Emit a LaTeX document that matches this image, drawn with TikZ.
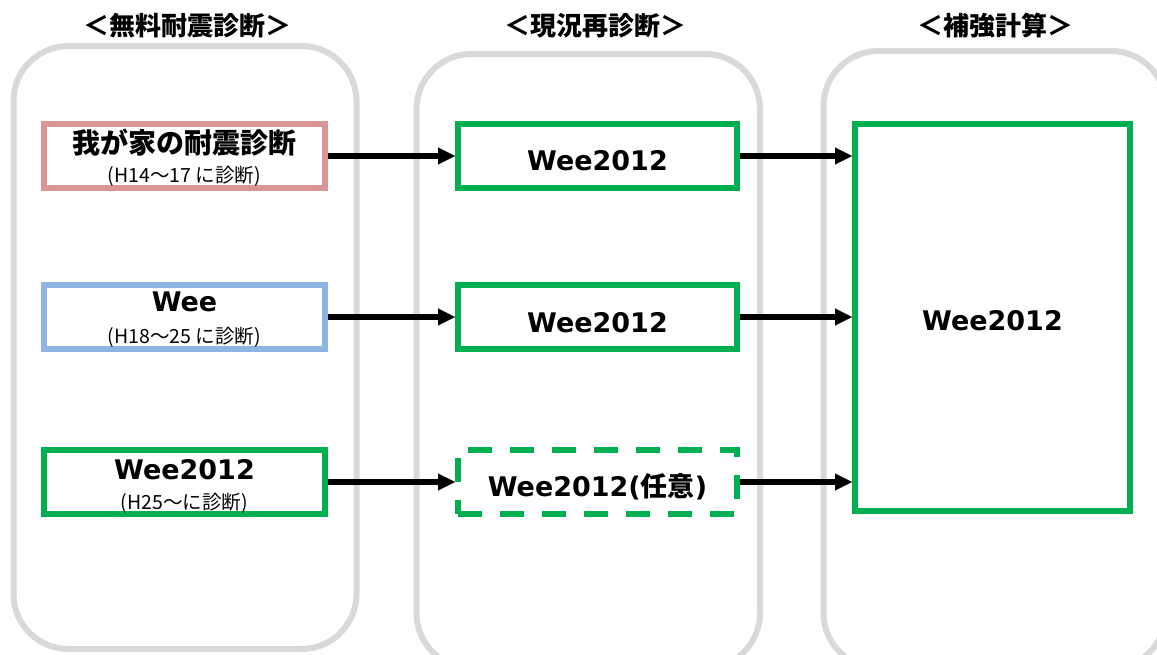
\documentclass[tikz,border=0pt]{standalone}
\usepackage{fontspec}
\setmainfont{DejaVu Sans}
\newfontfamily\jp{Noto Sans CJK JP}
\usetikzlibrary{arrows.meta}
\definecolor{panelgray}{HTML}{D9D9D9}
\definecolor{boxpink}{HTML}{D99694}
\definecolor{boxblue}{HTML}{8EB4E3}
\definecolor{boxgreen}{HTML}{00B050}
\begin{document}
\begin{tikzpicture}[x=1pt,y=-1pt,
  panel/.style={draw=panelgray,line width=6pt,rounded corners=55pt},
  srcbox/.style={draw,line width=6pt,minimum width=281pt,minimum height=64pt,inner sep=0pt,fill=white},
  midbox/.style={draw=boxgreen,line width=6pt,minimum width=279pt,minimum height=64pt,inner sep=0pt,fill=white},
  flow/.style={line width=5.5pt,-{Triangle[length=17pt,width=17pt,line width=0.1pt]}},
  ttl/.style={font=\jp\bfseries\fontsize{26}{30}\selectfont,inner sep=0pt},
  mainlbl/.style={font=\bfseries\fontsize{27}{30}\selectfont,inner sep=0pt},
  jpmain/.style={font=\jp\bfseries\fontsize{28}{30}\selectfont,inner sep=0pt},
  sublbl/.style={font=\jp\fontsize{19.5}{22}\selectfont,inner sep=0pt}
]
\useasboundingbox (0,0) rectangle (1157,654);
\clip (0,0) rectangle (1157,654);
% panels
\draw[panel] (13.5,46) rectangle (356.5,649);
\draw[panel] (416.5,54) rectangle (760,668);
\draw[panel] (823.5,51) rectangle (1166,668);
% titles
\node[ttl] (t1) at (187,26) {＜無料耐震診断＞};
\node[ttl] (t2) at (595,26) {＜現況再診断＞};
\node[ttl] (t3) at (995,26) {＜補強計算＞};
% source boxes
\node[srcbox,draw=boxpink] (A) at (184.5,156) {};
\node[srcbox,draw=boxblue] (B) at (184.5,317) {};
\node[srcbox,draw=boxgreen] (C) at (184.5,482) {};
\node[jpmain] (Am) at (184.5,143) {我が家の耐震診断};
\node[sublbl] (As) at (184.5,176) {(H14～17 に診断)};
\node[mainlbl] (Bm) at (184.5,302) {Wee};
\node[sublbl] (Bs) at (184.5,337) {(H18～25 に診断)};
\node[mainlbl] (Cm) at (184.5,470) {Wee2012};
\node[sublbl] (Cs) at (184.5,503) {(H25～に診断)};
% middle boxes
\node[midbox] (D) at (597.5,156) {};
\node[midbox] (E) at (597.5,317) {};
\node[midbox,dash pattern=on 24pt off 18pt] (F) at (597.5,482) {};
\node[mainlbl] (Dm) at (597.5,161) {Wee2012};
\node[mainlbl] (Em) at (597.5,323) {Wee2012};
\node[mainlbl] (Fm) at (597.5,487) {Wee2012({\jp 任意})};
% right box
\node[draw=boxgreen,line width=6pt,minimum width=275pt,minimum height=387pt,inner sep=0pt,fill=white] (G) at (992.5,317.5) {};
\node[mainlbl] (Gm) at (992.5,321) {Wee2012};
% arrows
\draw[flow] (A.east) -- (A.east -| D.west);
\draw[flow] (B.east) -- (B.east -| E.west);
\draw[flow] (C.east) -- (C.east -| F.west);
\draw[flow] (D.east) -- (D.east -| G.west);
\draw[flow] (E.east) -- (E.east -| G.west);
\draw[flow] (F.east) -- (F.east -| G.west);
\end{tikzpicture}
\end{document}
